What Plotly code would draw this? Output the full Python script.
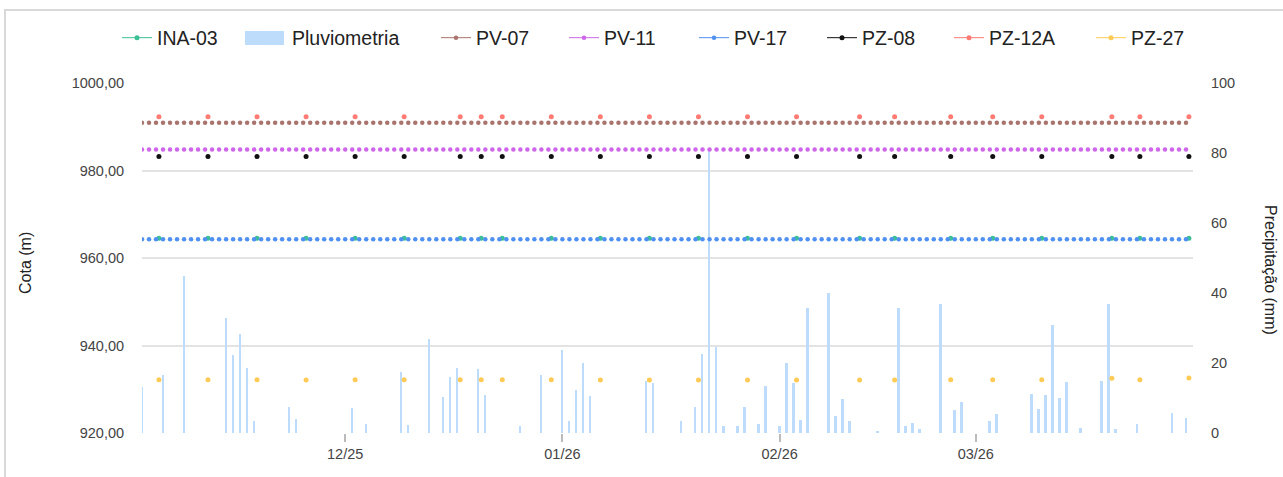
import plotly.graph_objects as go
import pandas as pd

# ---------------- data ----------------
rain_dates = [
    "2025-11-02", "2025-11-05", "2025-11-08", "2025-11-14", "2025-11-15", "2025-11-16",
    "2025-11-17", "2025-11-18", "2025-11-23", "2025-11-24", "2025-12-02", "2025-12-04",
    "2025-12-09", "2025-12-10", "2025-12-13", "2025-12-15", "2025-12-16", "2025-12-17",
    "2025-12-20", "2025-12-21", "2025-12-26", "2025-12-29", "2026-01-01", "2026-01-02",
    "2026-01-03", "2026-01-04", "2026-01-05", "2026-01-13", "2026-01-14", "2026-01-18",
    "2026-01-20", "2026-01-21", "2026-01-22", "2026-01-23", "2026-01-24", "2026-01-26",
    "2026-01-27", "2026-01-29", "2026-01-30", "2026-02-01", "2026-02-02", "2026-02-03",
    "2026-02-04", "2026-02-05", "2026-02-08", "2026-02-09", "2026-02-10", "2026-02-11",
    "2026-02-15", "2026-02-18", "2026-02-19", "2026-02-20", "2026-02-21", "2026-02-24",
    "2026-02-26", "2026-02-27", "2026-03-03", "2026-03-04", "2026-03-09", "2026-03-10",
    "2026-03-11", "2026-03-12", "2026-03-13", "2026-03-14", "2026-03-16", "2026-03-19",
    "2026-03-20", "2026-03-21", "2026-03-24", "2026-03-29", "2026-03-31",
]
rain_mm = [
    13.2, 16.5, 44.9, 32.8, 22.3, 28.3,
    18.7, 3.5, 7.3, 3.9, 7.1, 2.6,
    17.3, 2.3, 26.8, 10.4, 16.0, 18.7,
    18.4, 10.9, 1.9, 16.5, 23.8, 3.3,
    12.3, 20.0, 10.5, 15.0, 14.4, 3.3,
    7.5, 22.7, 80.5, 24.6, 2.1, 1.9,
    7.4, 2.5, 13.5, 2.1, 20.0, 14.3,
    3.8, 35.8, 39.9, 4.8, 9.7, 3.3,
    0.3, 35.6, 2.1, 2.9, 1.1, 37.0,
    6.7, 8.9, 3.3, 5.5, 11.2, 6.8,
    10.9, 30.9, 9.9, 14.7, 1.3, 15.0,
    37.0, 1.1, 2.7, 5.7, 4.4,
]

# weekly readings (INA-03, PZ-08, PZ-12A, PZ-27)
sample_dates = [
    "2025-11-04 10:00", "2025-11-11 10:00", "2025-11-18 10:00", "2025-11-25 10:00",
    "2025-12-02 10:00", "2025-12-09 10:00", "2025-12-17 10:00", "2025-12-20 10:00",
    "2025-12-23 10:00", "2025-12-30 10:00", "2026-01-06 10:00", "2026-01-13 10:00",
    "2026-01-20 10:00", "2026-01-27 10:00", "2026-02-03 10:00", "2026-02-12 10:00",
    "2026-02-17 10:00", "2026-02-25 10:00", "2026-03-03 10:00", "2026-03-10 10:00",
    "2026-03-20 10:00", "2026-03-24 10:00", "2026-03-31 10:00",
]
ina03 = [964.5] * 23
pz08 = [983.2] * 23
pz12a = [992.3] * 23
pz27 = [932.2, 932.2, 932.2, 932.1, 932.2, 932.2, 932.2, 932.2,
        932.2, 932.2, 932.1, 932.1, 932.1, 932.1, 932.1, 932.1,
        932.1, 932.2, 932.2, 932.2, 932.5, 932.2, 932.6]

# daily readings (PV-07, PV-11, PV-17) – flat levels
daily_dates = pd.date_range("2025-11-02", "2026-03-31", freq="D")
pv07 = [990.9] * len(daily_dates)
pv11 = [984.8] * len(daily_dates)
pv17 = [964.3] * len(daily_dates)

tick_dates = ["2025-12-01", "2026-01-01", "2026-02-01", "2026-03-01"]
tick_labels = ["12/25", "01/26", "02/26", "03/26"]

series_names = ["INA-03", "Pluviometria", "PV-07", "PV-11", "PV-17", "PZ-08", "PZ-12A", "PZ-27"]


def isolated(xs, ys):
    X, Y = [], []
    for x, y in zip(xs, ys):
        X += [x, None]
        Y += [y, None]
    return X, Y


FONT = "Liberation Sans, Arial, sans-serif"
L, R, T, B = 142, 90, 83, 44
W, H = 1283, 477
pw, ph = W - L - R, H - T - B


def px(xp):
    return (xp - L) / pw


def py(yp):
    return (H - B - yp) / ph


fig = go.Figure()
legend_ids = ["legend"] + ["legend%d" % i for i in range(2, 9)]


def add_pts(idx, xs, ys, color, size=5):
    X, Y = isolated(list(xs), ys)
    fig.add_trace(go.Scatter(
        x=X, y=Y, name=series_names[idx], mode="lines+markers", yaxis="y2",
        connectgaps=False, legend=legend_ids[idx],
        line=dict(color=color, width=1),
        marker=dict(color=color, size=size),
    ))


BAR_COLOR = "#bddcfb"
add_pts(0, sample_dates, ina03, "#3bbf95")
fig.add_trace(go.Bar(
    x=rain_dates, y=rain_mm, name=series_names[1], yaxis="y", legend=legend_ids[1],
    marker=dict(color=BAR_COLOR, line=dict(width=0)),
    width=0.27 * 86400000,
))
add_pts(2, daily_dates, pv07, "#a9746e", 4.5)
add_pts(3, daily_dates, pv11, "#cf66ea", 4.5)
add_pts(4, daily_dates, pv17, "#4f90f0", 4.5)
add_pts(5, sample_dates, pz08, "#111111")
add_pts(6, sample_dates, pz12a, "#ff7b73")
add_pts(7, sample_dates, pz27, "#ffca55")

# legend text start positions (px) as in the reference
text_starts = [157, 292, 476, 604, 734, 862, 989, 1131]
LEG_OFF = 40
legend_layout = {}
for lid, ts in zip(legend_ids, text_starts):
    legend_layout[lid] = dict(
        orientation="h", x=px(ts - LEG_OFF), xanchor="left", y=py(38), yanchor="middle",
        font=dict(size=19.5, color="#222", family=FONT),
        bgcolor="rgba(0,0,0,0)", borderwidth=0,
    )

fig.update_layout(
    width=W, height=H,
    margin=dict(l=L, r=R, t=T, b=B, pad=0),
    paper_bgcolor="white", plot_bgcolor="white",
    separators=",.",
    font=dict(family=FONT, size=14.5, color="#444"),
    showlegend=True,
    bargap=0,
    xaxis=dict(
        type="date", range=["2025-11-02", "2026-04-01"],
        tickvals=tick_dates, ticktext=tick_labels,
        ticks="outside", ticklen=8, tickcolor="#bbbbbb", tickwidth=1.5,
        showgrid=False, zeroline=False, showline=False,
        tickfont=dict(size=14.5, color="#444"),
    ),
    yaxis=dict(
        range=[0, 100], side="right", dtick=20, showgrid=False, zeroline=False,
        ticks="outside", ticklen=14, tickcolor="rgba(0,0,0,0)",
        tickfont=dict(size=14.5, color="#444"),
    ),
    yaxis2=dict(
        range=[920, 1000], side="left", overlaying="y", dtick=20,
        tickformat=".2f", showgrid=True, gridcolor="#e3e3e3", gridwidth=1.5,
        zeroline=False, ticks="outside", ticklen=14, tickcolor="rgba(0,0,0,0)",
        tickfont=dict(size=14.5, color="#444"),
    ),
    annotations=[
        dict(text="Cota (m)", x=px(25), y=py(263), xref="paper", yref="paper",
             xanchor="center", yanchor="middle",
             textangle=-90, showarrow=False, font=dict(size=16, color="#222")),
        dict(text="Precipitação (mm)", x=px(1271), y=py(270), xref="paper", yref="paper",
             xanchor="center", yanchor="middle",
             textangle=90, showarrow=False, font=dict(size=16, color="#222")),
    ],
    shapes=[
        dict(type="rect", xref="paper", yref="paper",
             x0=px(5), x1=px(1300), y0=py(500), y1=py(10),
             line=dict(color="#d9d9d9", width=2), fillcolor="rgba(0,0,0,0)", layer="below"),
        # wide legend swatch for Pluviometria
        dict(type="rect", xref="paper", yref="paper",
             x0=px(245), x1=px(284), y0=py(45), y1=py(31),
             line=dict(width=0), fillcolor=BAR_COLOR, layer="above"),
    ],
    **legend_layout,
)

fig.write_html(
    "out.html",
    config={"displayModeBar": False},
    post_script="document.body.style.margin='0';document.body.style.overflow='hidden';",
)
